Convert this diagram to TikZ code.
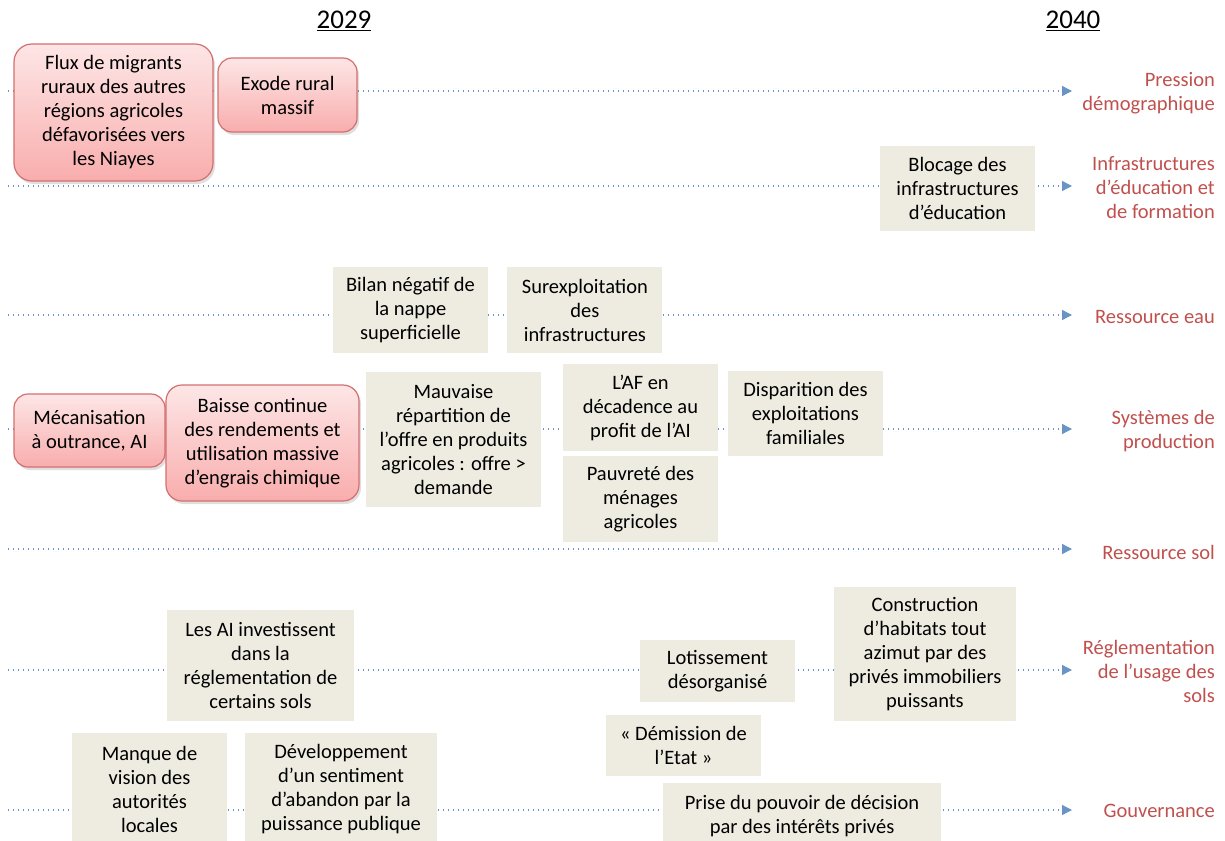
\documentclass[tikz,border=0pt]{standalone}
\usepackage{fontspec}
\setmainfont{Carlito}
\usepackage{tikz}
\usetikzlibrary{arrows.meta,positioning,shadows}

\definecolor{axisblue}{HTML}{4F81BD}
\definecolor{themered}{HTML}{C0504D}
\definecolor{tanfill}{HTML}{EEECE1}
\definecolor{alerttop}{HTML}{FDE6E6}
\definecolor{alertbottom}{HTML}{F9ADAD}
\definecolor{alertdraw}{HTML}{D46F6F}

\begin{document}
\begin{tikzpicture}[x=1pt,y=-1pt,font=\fontsize{20.5}{24}\selectfont]
\tikzset{axisline/.style={axisblue!85,line width=1.3pt,dash pattern=on 1.3pt off 3.7pt,
                          -{Triangle[length=10pt,width=10pt]}}}
\tikzset{fact/.style={fill=tanfill,align=center,inner sep=0pt}}
\tikzset{alert/.style={draw=alertdraw,line width=1.2pt,rounded corners=14pt,
                       top color=alerttop,bottom color=alertbottom,align=center,inner sep=0pt,
                       drop shadow={opacity=0.25,shadow xshift=2pt,shadow yshift=-3pt}}}
\tikzset{theme/.style={themered,align=right,anchor=east,inner sep=0pt}}
\tikzset{year/.style={font=\fontsize{27}{30}\selectfont,inner sep=0pt}}

\clip (0,0) rectangle (1225,840);

        % years
        \node[year] (y29) at (344,21) {\underline{2029}};
        \node[year] (y40) at (1073,21) {\underline{2040}};

        % timelines
        \foreach \row/\ypos in {1/91,2/186,3/315,4/429,5/549,6/670,7/810}{
          \coordinate (s\row) at (8,\ypos);
          \coordinate (e\row) at (1072,\ypos);
          \draw[axisline] (s\row) -- (e\row);
        }

        % themes
        \node[theme] (t1) at (1215,93.5) {Pression\\démographique};
        \node[theme] (t2) at (1215,188) {Infrastructures\\d’éducation et\\de formation};
        \node[theme] (t3) at (1215,317) {Ressource eau};
        \node[theme] (t4) at (1215,431.5) {Systèmes de\\production};
        \node[theme] (t5) at (1215,552) {Ressource sol};
        \node[theme] (t6) at (1215,671) {Réglementation\\de l’usage des\\sols};
        \node[theme] (t7) at (1215,811) {Gouvernance};

        % pression demographique
        \node[alert,rounded corners=18pt,minimum width=199pt,minimum height=137pt] (flux) at (113.5,112.5)
             {Flux de migrants\\ruraux des autres\\régions agricoles\\défavorisées vers\\les Niayes};
        \node[alert,minimum width=139pt,minimum height=74pt] (exode) at (287.5,95) {Exode rural\\massif};

        % infrastructures
        \node[fact,minimum width=155pt,minimum height=85pt] (blocage) at (957.5,188.5)
             {Blocage des\\infrastructures\\d’éducation};

        % eau
        \node[fact,minimum width=155pt,minimum height=86pt] (bilan) at (410.5,310)
             {Bilan négatif de\\la nappe\\superficielle};
        \node[fact,minimum width=155pt,minimum height=86pt] (surexp) [right=19pt of bilan]
             {Surexploitation\\des\\infrastructures};

        % systemes de production
        \node[alert,minimum width=151pt,minimum height=73pt] (meca) at (89.5,430.5)
             {Mécanisation\\à outrance, AI};
        \node[alert,rounded corners=16pt,minimum width=193pt,minimum height=116pt] (baisse) at (262.5,443)
             {Baisse continue\\des rendements et\\utilisation massive\\d’engrais chimique};
        \node[fact,minimum width=175pt,minimum height=135pt] (mauvaise) at (453.5,439.5)
             {Mauvaise\\répartition de\\l’offre en produits\\agricoles : offre >\\demande};
        \node[fact,minimum width=155pt,minimum height=87pt] (af) at (640.5,407.5)
             {L’AF en\\décadence au\\profit de l’AI};
        \node[fact,minimum width=155pt,minimum height=85pt] (dispar) at (805.5,413.5)
             {Disparition des\\exploitations\\familiales};
        \node[fact,minimum width=155pt,minimum height=86pt] (pauvre) [below=5pt of af]
             {Pauvreté des\\ménages\\agricoles};

        % reglementation
        \node[fact,minimum width=187pt,minimum height=111pt] (invest) at (260.5,665.5)
             {Les AI investissent\\dans la\\réglementation de\\certains sols};
        \node[fact,minimum width=155pt,minimum height=62pt] (lotis) at (717.5,671)
             {Lotissement\\désorganisé};
        \node[fact,minimum width=182pt,minimum height=134pt] (constr) at (925,654)
             {Construction\\d’habitats tout\\azimut par des\\privés immobiliers\\puissants};

        % gouvernance
        \node[fact,minimum width=155pt,minimum height=61pt] (demis) at (683.5,745.5)
             {« Démission de\\l’Etat »};
        \node[fact,minimum width=155pt,minimum height=113pt] (manque) at (149.5,789.5)
             {Manque de\\vision des\\autorités\\locales};
        \node[fact,minimum width=192pt,minimum height=113pt] (devel) at (341,789.5)
             {Développement\\d’un sentiment\\d’abandon par la\\puissance publique};
        \node[fact,minimum width=278pt,minimum height=66pt] (prise) at (802,816)
             {Prise du pouvoir de décision\\par des intérêts privés};

\end{tikzpicture}
\end{document}
